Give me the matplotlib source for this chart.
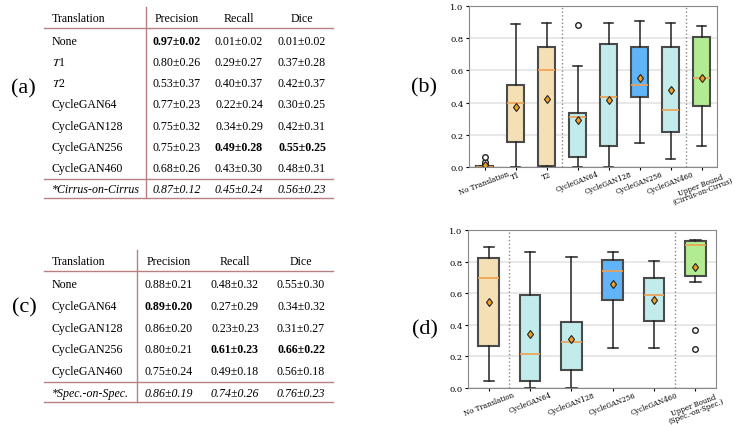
import matplotlib
matplotlib.use("Agg")
import matplotlib.pyplot as plt

plt.rcParams.update({"font.family": "DejaVu Serif", "mathtext.fontset": "stix"})

# ---- table (a) data
ROWS_A = ["None", "$T$1", "$T$2", "CycleGAN64", "CycleGAN128", "CycleGAN256",
          "CycleGAN460", "*Cirrus-on-Cirrus"]
PREC_A = ["0.97±0.02", "0.80±0.26", "0.53±0.37", "0.77±0.23", "0.75±0.32",
          "0.75±0.23", "0.68±0.26", "0.87±0.12"]
REC_A = ["0.01±0.02", "0.29±0.27", "0.40±0.37", "0.22±0.24", "0.34±0.29",
         "0.49±0.28", "0.43±0.30", "0.45±0.24"]
DICE_A = ["0.01±0.02", "0.37±0.28", "0.42±0.37", "0.30±0.25", "0.42±0.31",
          "0.55±0.25", "0.48±0.31", "0.56±0.23"]
BOLD_A = [(0, 0), (5, 1), (5, 2)]

# ---- table (c) data
ROWS_C = ["None", "CycleGAN64", "CycleGAN128", "CycleGAN256", "CycleGAN460",
          "*Spec.-on-Spec."]
PREC_C = ["0.88±0.21", "0.89±0.20", "0.86±0.20", "0.80±0.21", "0.75±0.24", "0.86±0.19"]
REC_C = ["0.48±0.32", "0.27±0.29", "0.23±0.23", "0.61±0.23", "0.49±0.18", "0.74±0.26"]
DICE_C = ["0.55±0.30", "0.34±0.32", "0.31±0.27", "0.66±0.22", "0.56±0.18", "0.76±0.23"]
BOLD_C = [(1, 0), (3, 1), (3, 2)]

# ---- boxplot (b) data
LAB_B = ["No Translation", "T1", "T2", "CycleGAN64", "CycleGAN128", "CycleGAN256",
         "CycleGAN460", "Upper Bound\n(Cirrus-on-Cirrus)"]
WLO_B = [0.0, 0.0, 0.0, 0.0, 0.0, 0.148, 0.052, 0.131]
Q1_B = [0.0, 0.158, 0.006, 0.064, 0.131, 0.437, 0.22, 0.378]
MED_B = [0.003, 0.395, 0.605, 0.308, 0.437, 0.507, 0.356, 0.555]
Q3_B = [0.005, 0.509, 0.744, 0.333, 0.761, 0.748, 0.744, 0.809]
WHI_B = [0.008, 0.888, 0.892, 0.63, 0.896, 0.909, 0.896, 0.877]
MEAN_B = [0.01, 0.37, 0.422, 0.293, 0.418, 0.551, 0.476, 0.555]
FLI_B = [[0.02, 0.03, 0.06], [], [], [0.884], [], [], [], []]
COL_B = ["#f5e0b5", "#f5e0b5", "#f5e0b5", "#c2ecec", "#c2ecec", "#60b4f7",
         "#c2ecec", "#b2ec92"]

# ---- boxplot (d) data
LAB_D = ["No Translation", "CycleGAN64", "CycleGAN128", "CycleGAN256", "CycleGAN460",
         "Upper Bound\n(Spec.-on-Spec.)"]
WLO_D = [0.046, 0.0, 0.0, 0.253, 0.253, 0.67]
Q1_D = [0.265, 0.044, 0.116, 0.56, 0.427, 0.712]
MED_D = [0.695, 0.216, 0.288, 0.741, 0.591, 0.902]
Q3_D = [0.82, 0.587, 0.417, 0.807, 0.695, 0.929]
WHI_D = [0.89, 0.863, 0.828, 0.861, 0.801, 0.938]
MEAN_D = [0.544, 0.34, 0.309, 0.656, 0.556, 0.763]
FLI_D = [[], [], [], [], [], [0.365, 0.245]]
COL_D = ["#f5e0b5", "#c2ecec", "#c2ecec", "#60b4f7", "#c2ecec", "#b2ec92"]

W, H = 737, 427
fig = plt.figure(figsize=(W / 100, H / 100), dpi=100)
bg = fig.add_axes([0, 0, 1, 1])
bg.set_xlim(0, W)
bg.set_ylim(H, 0)
bg.axis("off")

RULE = "#b88080"
TF = "Liberation Serif"
FS = 8.6


def draw_table(top, vline_x, cols_x, rows, cols, bold, dy):
    y_head = top + 11
    bg.text(52, y_head, "Translation", fontsize=FS, va="center", family=TF)
    for x, h in zip(cols_x, ["Precision", "Recall", "Dice"]):
        bg.text(x, y_head, h, fontsize=FS, va="center", ha="center", family=TF)
    y0 = top + 21
    n = len(rows)
    for i, r in enumerate(rows):
        y = y0 + dy * (i + 0.6)
        last = i == n - 1
        st = "italic" if last else "normal"
        bg.text(52, y, r, fontsize=FS, va="center", style=st, family=TF)
        for j, x in enumerate(cols_x):
            wt = "bold" if (i, j) in bold else "normal"
            bg.text(x, y, cols[j][i], fontsize=FS, va="center", ha="center",
                    style=st, weight=wt, family=TF)
    y_sep = y0 + dy * (n - 1) + 0.1 * dy
    y_bot = y0 + dy * n
    for y in (y0, y_sep, y_bot):
        bg.plot([44, 333], [y, y], color=RULE, lw=1.0)
    bg.plot([vline_x, vline_x], [top, y_bot], color=RULE, lw=1.0)


draw_table(8, 146, [177, 239, 302], ROWS_A, [PREC_A, REC_A, DICE_A], BOLD_A, 21.2)
draw_table(251, 137, [169, 235, 301], ROWS_C, [PREC_C, REC_C, DICE_C], BOLD_C, 21.8)

for lab, x, y in [("(a)", 23, 89), ("(c)", 24, 308), ("(b)", 424, 88), ("(d)", 425, 330)]:
    bg.text(x, y, lab, fontsize=16, ha="center", va="center", family=TF)


def draw_box(rect, labels, wlo, q1, med, q3, whi, mean, fli, colors, seps, width):
    ax = fig.add_axes([rect[0] / W, 1 - rect[3] / H, (rect[2] - rect[0]) / W,
                       (rect[3] - rect[1]) / H])
    stats = []
    for i in range(len(labels)):
        stats.append(dict(whislo=wlo[i], q1=q1[i], med=med[i], q3=q3[i], whishi=whi[i],
                          mean=mean[i], fliers=fli[i]))
    bp = ax.bxp(stats, widths=width, patch_artist=True, showmeans=True,
                boxprops=dict(edgecolor="#4a4a4a", linewidth=1.5),
                whiskerprops=dict(color="#222222", linewidth=1.1),
                capprops=dict(color="#222222", linewidth=1.1),
                medianprops=dict(color="#f0a050", linewidth=1.2),
                meanprops=dict(marker="d", markerfacecolor="#f0a020",
                               markeredgecolor="#222222", markersize=4.5, markeredgewidth=0.8),
                flierprops=dict(marker="o", markerfacecolor="white",
                                markeredgecolor="#222222", markersize=4))
    for p, c in zip(bp["boxes"], colors):
        p.set_facecolor(c)
    for s in seps:
        ax.axvline(s, color="#888888", linestyle=":", lw=1.0)
    ax.set_ylim(0, 1)
    ax.set_xlim(0.5, len(labels) + 0.5)
    ax.set_yticks([0, 0.2, 0.4, 0.6, 0.8, 1.0])
    ax.set_yticklabels(["0.0", "0.2", "0.4", "0.6", "0.8", "1.0"])
    ax.yaxis.grid(True, color="#e4e4e4", lw=1.2)
    ax.set_axisbelow(True)
    ax.set_xticklabels(labels, rotation=21, ha="center", fontsize=5.0, linespacing=0.75)
    ax.tick_params(axis="y", labelsize=6, length=2, pad=2)
    ax.tick_params(axis="x", length=2, pad=0.0)
    for sp in ax.spines.values():
        sp.set_color("#888888")
    return ax


draw_box((469, 7, 717, 168), LAB_B, WLO_B, Q1_B, MED_B, Q3_B, WHI_B, MEAN_B, FLI_B,
         COL_B, [3.5, 7.5], 0.55)
draw_box((468, 231, 716, 389), LAB_D, WLO_D, Q1_D, MED_D, Q3_D, WHI_D, MEAN_D, FLI_D,
         COL_D, [1.5, 5.5], 0.5)

fig.savefig("out.png", dpi=100)
